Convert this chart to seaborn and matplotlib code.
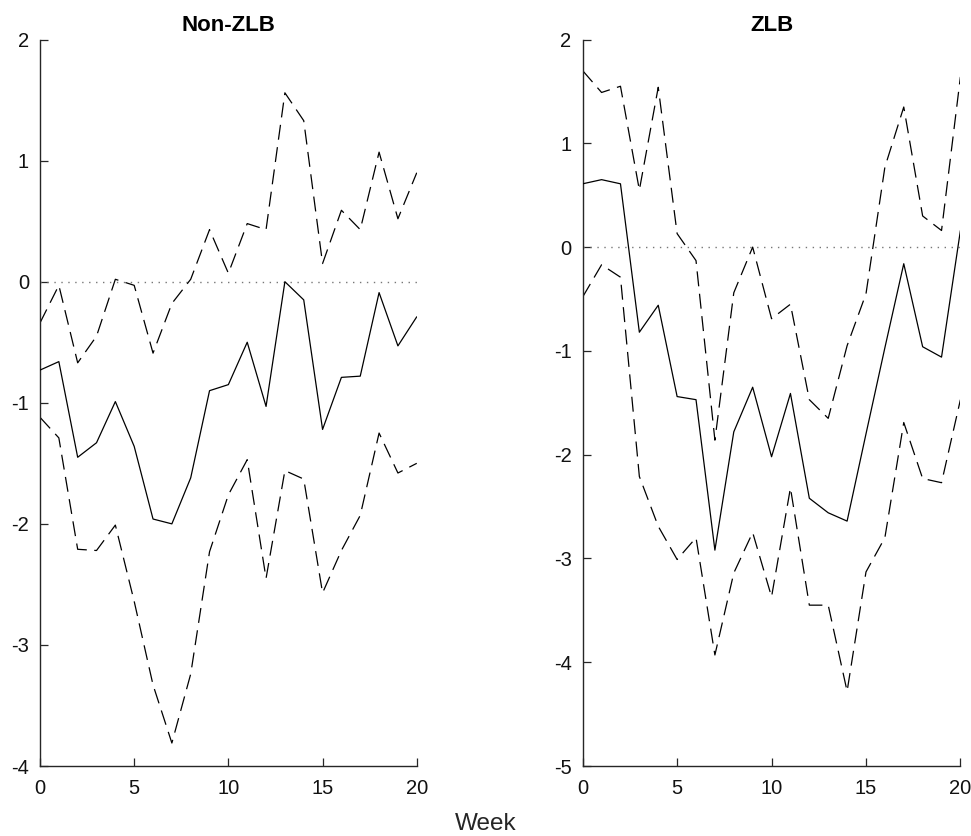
import numpy as np
import pandas as pd
import matplotlib
matplotlib.use("Agg")
import matplotlib.pyplot as plt
import seaborn as sns

weeks = list(range(21))

# Non-ZLB response: point estimate and band bounds
nonzlb_mid = [-0.73, -0.66, -1.45, -1.33, -0.99, -1.36, -1.96, -2.00, -1.62, -0.90, -0.85,
              -0.50, -1.03, 0.00, -0.15, -1.22, -0.79, -0.78, -0.09, -0.53, -0.29]
nonzlb_upper = [-0.34, -0.03, -0.67, -0.45, 0.02, -0.03, -0.59, -0.18, 0.02, 0.43, 0.07,
                0.48, 0.43, 1.56, 1.33, 0.15, 0.59, 0.43, 1.07, 0.52, 0.90]
nonzlb_lower = [-1.12, -1.29, -2.21, -2.22, -2.01, -2.64, -3.33, -3.81, -3.24, -2.23, -1.76,
                -1.47, -2.45, -1.56, -1.63, -2.57, -2.22, -1.93, -1.25, -1.58, -1.50]

# ZLB response: point estimate and band bounds
zlb_mid = [0.61, 0.65, 0.61, -0.82, -0.56, -1.44, -1.47, -2.92, -1.78, -1.35, -2.02,
           -1.41, -2.42, -2.56, -2.64, -1.80, -0.97, -0.16, -0.96, -1.06, 0.16]
zlb_upper = [1.70, 1.49, 1.55, 0.55, 1.54, 0.13, -0.13, -1.86, -0.44, 0.00, -0.69,
             -0.55, -1.47, -1.65, -0.95, -0.45, 0.77, 1.35, 0.30, 0.16, 1.64]
zlb_lower = [-0.48, -0.17, -0.29, -2.21, -2.69, -3.01, -2.80, -3.93, -3.14, -2.75, -3.37,
             -2.32, -3.45, -3.45, -4.28, -3.13, -2.80, -1.69, -2.23, -2.27, -1.47]

titles = ["Non-ZLB", "ZLB"]
y_limits = [(-4, 2), (-5, 2)]
y_ticks = [list(range(-4, 3)), list(range(-5, 3))]
x_ticks = [0, 5, 10, 15, 20]

sns.set_style("white")
plt.rcParams["font.family"] = ["Liberation Sans", "DejaVu Sans"]

fig = plt.figure(figsize=(9.71, 8.36), dpi=100)
ax_left = fig.add_axes([0.0412, 0.0837, 0.388, 0.869])
ax_right = fig.add_axes([0.6001, 0.0837, 0.389, 0.869])

panels = [
    (ax_left, nonzlb_mid, nonzlb_upper, nonzlb_lower),
    (ax_right, zlb_mid, zlb_upper, zlb_lower),
]

dash_style = (0, (12, 6))

for i, (ax, mid, up, lo) in enumerate(panels):
    ax.axhline(0, color="#777777", linestyle=(0, (1, 4)), linewidth=1.0, zorder=1)
    sns.lineplot(x=weeks, y=up, ax=ax, color="black", linewidth=0.9,
                 linestyle=dash_style, zorder=2)
    sns.lineplot(x=weeks, y=lo, ax=ax, color="black", linewidth=0.9,
                 linestyle=dash_style, zorder=2)
    sns.lineplot(x=weeks, y=mid, ax=ax, color="black", linewidth=0.9, zorder=3)

    ax.set_xlim(0, 20)
    ax.set_ylim(*y_limits[i])
    ax.set_xticks(x_ticks)
    ax.set_yticks(y_ticks[i])
    ax.set_xticklabels([str(t) for t in x_ticks])
    ax.set_yticklabels([str(t) for t in y_ticks[i]])
    ax.set_title(titles[i], fontsize=16, fontweight="bold", pad=6, color="black")

    for side in ["top", "right"]:
        ax.spines[side].set_visible(False)
    for side in ["left", "bottom"]:
        ax.spines[side].set_color("#262626")
        ax.spines[side].set_linewidth(1.0)

    ax.tick_params(axis="both", direction="in", length=6, width=0.9,
                   colors="#262626", labelcolor="#111111", labelsize=14.5,
                   bottom=True, left=True, top=False, right=False)
    ax.tick_params(axis="y", pad=8)
    ax.tick_params(axis="x", pad=9)
    ax.set_xlabel("")
    ax.set_ylabel("")
    ax.grid(False)

fig.text(0.5, 1.0 / 836, "Week", ha="center", va="bottom", fontsize=17.5,
         color="#262626")

fig.savefig("out.png", dpi=100, facecolor="white")
